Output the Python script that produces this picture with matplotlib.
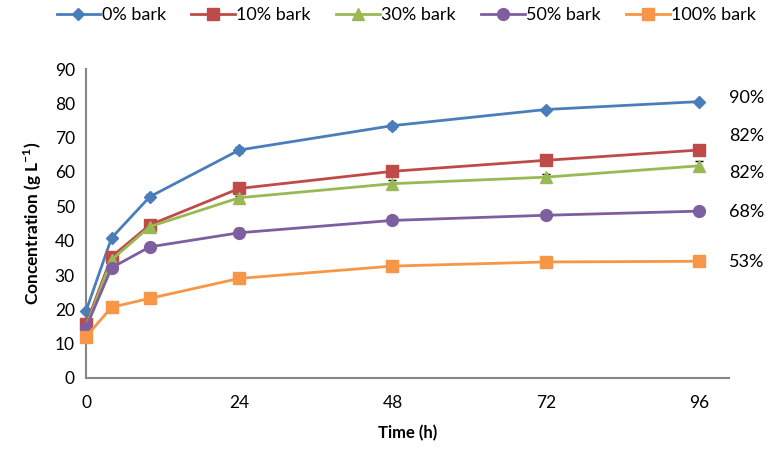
import matplotlib
matplotlib.use("Agg")
import matplotlib.pyplot as plt

plt.rcParams['font.family'] = ['Lato', 'DejaVu Sans']

time_h = [0, 4, 10, 24, 48, 72, 96]
series_names = ["0% bark", "10% bark", "30% bark", "50% bark", "100% bark"]
bark0 = [19.5, 40.8, 52.8, 66.4, 73.5, 78.2, 80.5]
bark10 = [15.6, 35.3, 44.6, 55.2, 60.2, 63.4, 66.4]
bark30 = [15.0, 34.4, 44.1, 52.5, 56.6, 58.5, 61.8]
bark50 = [14.7, 32.1, 38.2, 42.3, 45.9, 47.4, 48.6]
bark100 = [12.0, 20.6, 23.2, 29.0, 32.6, 33.8, 34.0]
err0 = [0.3, 0.4, 0.8, 0.9, 0.9, 0.4, 0.3]
err10 = [0.3, 0.4, 0.4, 0.5, 0.4, 0.4, 0.3]
err30 = [0.3, 0.4, 0.4, 0.5, 1.0, 0.9, 1.4]
err50 = [0.3, 0.3, 0.3, 1.3, 0.4, 0.3, 0.3]
err100 = [0.3, 0.3, 0.3, 0.3, 0.3, 0.3, 0.3]
yield_labels = ["90%", "82%", "82%", "68%", "53%"]
yield_label_y = [81.6, 70.6, 59.7, 48.3, 33.8]
x_ticks = [0, 24, 48, 72, 96]
y_ticks = [0, 10, 20, 30, 40, 50, 60, 70, 80, 90]

values = [bark0, bark10, bark30, bark50, bark100]
errors = [err0, err10, err30, err50, err100]
colors = ["#4A7EBB", "#BE4B48", "#98B954", "#7D5FA0", "#F79646"]
markers = ["D", "s", "^", "o", "s"]
msizes = [6.5, 8, 8.5, 8.5, 8]

fig = plt.figure(figsize=(7.67, 4.49), dpi=100)
ax = fig.add_axes([86/767, 71/449, (729-86)/767, (378-69)/449])

for name, v, e, c, m, ms in zip(series_names, values, errors, colors, markers, msizes):
    ax.errorbar(time_h, v, yerr=e, fmt='none', ecolor='black', elinewidth=1.0,
                capsize=3, capthick=1.0, zorder=2)
    ax.plot(time_h, v, color=c, marker=m, markersize=ms, linewidth=2.0,
            label=name, zorder=3, clip_on=False)

ax.set_xlim(0, 100.7)
ax.set_ylim(0, 90)
ax.set_xticks(x_ticks)
ax.set_yticks(y_ticks)
ax.tick_params(axis='both', length=0, labelsize=12.5, pad=8)
ax.tick_params(axis='x', pad=12)
for s in ['top', 'right']:
    ax.spines[s].set_visible(False)
for s in ['left', 'bottom']:
    ax.spines[s].set_color('#868686')
    ax.spines[s].set_linewidth(1.5)

ax.set_xlabel("Time (h)", fontsize=12, fontweight='bold', labelpad=10)
ax.set_ylabel(r"Concentration (g L$^{\mathregular{-1}}$)", fontsize=12.5, fontweight='bold', labelpad=8)

for lab, yy in zip(yield_labels, yield_label_y):
    ax.text(1.0, yy, lab, transform=ax.get_yaxis_transform(), fontsize=13,
            ha='left', va='center', clip_on=False)

ax.legend(loc='upper center', bbox_to_anchor=(0.53, 1.008), bbox_transform=fig.transFigure,
          ncol=5, frameon=False, fontsize=13, handlelength=2.4, columnspacing=1.4,
          handletextpad=0.1, borderaxespad=0.2)

fig.savefig("out.png", dpi=100)
